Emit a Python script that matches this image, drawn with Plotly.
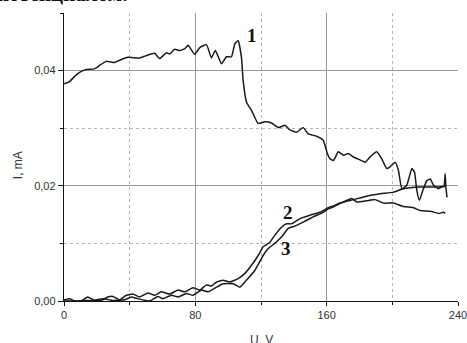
import plotly.graph_objects as go

# Curve 1
u1 = [0, 3.4, 6.5, 9.5, 13.5, 18.6, 21.7, 25.7, 30.8, 33.9, 38.9, 46.1, 50.2, 55.2, 58.3, 62.4,
      64.4, 67.4, 70.5, 73.6, 75.6, 79.6, 82.7, 86.8, 89.8, 92.2, 95.9, 99.0, 102.0, 104.1,
      106.1, 108.1, 109.1, 111.2, 114.2, 118.3, 122.4, 126.4, 130.5, 134.6, 137.6, 141.7,
      145.7, 148.8, 153.9, 157.9, 160.4, 162.0, 164.1, 167.1, 170.2, 173.2, 176.3, 180.3,
      183.4, 186.4, 190.5, 193.5, 196.6, 198.6, 201.7, 203.7, 205.8, 208.8, 211.9, 213.5,
      214.9, 216.5, 218.6, 221.0, 223.1, 225.1, 228.1, 230.2, 231.5, 232.2, 232.6, 233.3]
i1 = [0.0377, 0.0381, 0.0390, 0.0397, 0.0402, 0.0403, 0.0409, 0.0416, 0.0414, 0.0418, 0.0423,
      0.0422, 0.0426, 0.0430, 0.0421, 0.0431, 0.0429, 0.0437, 0.0435, 0.0438, 0.0444, 0.0428,
      0.0440, 0.0445, 0.0422, 0.0435, 0.0412, 0.0424, 0.0424, 0.0447, 0.0452, 0.0423, 0.0383,
      0.0345, 0.0331, 0.0308, 0.0311, 0.0309, 0.0301, 0.0305, 0.0297, 0.0293, 0.0301, 0.0290,
      0.0286, 0.0279, 0.0256, 0.0247, 0.0244, 0.0259, 0.0253, 0.0256, 0.0250, 0.0245, 0.0241,
      0.0250, 0.0259, 0.0247, 0.0230, 0.0233, 0.0241, 0.0227, 0.0195, 0.0201, 0.0230, 0.0224,
      0.0192, 0.0175, 0.0192, 0.0209, 0.0212, 0.0201, 0.0195, 0.0198, 0.0200, 0.0221, 0.0198,
      0.0180]

# Curve 2
u2 = [0, 3.4, 6.4, 10.5, 14.5, 18.6, 22.7, 26.7, 29.8, 33.9, 38.0, 42.0, 46.1, 51.1, 55.2,
      59.3, 64.4, 69.5, 73.5, 78.6, 82.7, 86.8, 89.8, 92.9, 96.9, 101.0, 106.1, 110.2, 114.2,
      118.3, 121.3, 125.4, 128.4, 132.5, 135.6, 138.6, 143.7, 149.8, 155.9, 161.0, 164.0,
      168.1, 176.3, 184.4, 192.5, 200.7, 206.8, 217.0, 225.1, 232.2]
i2 = [0.0002, 0.0004, 0.0, 0.0, 0.0007, 0.0001, 0.0001, 0.0007, 0.0008, 0.0002, 0.0010, 0.0012,
      0.0007, 0.0014, 0.0010, 0.0016, 0.0012, 0.0019, 0.0016, 0.0023, 0.0019, 0.0028, 0.0026,
      0.0033, 0.0036, 0.0033, 0.0039, 0.0048, 0.0062, 0.0079, 0.0094, 0.0102, 0.0114, 0.0128,
      0.0134, 0.0134, 0.0143, 0.0149, 0.0154, 0.0162, 0.0165, 0.0170, 0.0176, 0.0182, 0.0186,
      0.0189, 0.0195, 0.0198, 0.0198, 0.0199]

# Curve 3
u3 = [0, 8, 12, 17.6, 23.7, 29.8, 36.9, 41.0, 45.0, 52.2, 57.2, 60.3, 65.4, 69.5, 74.6, 78.6,
      83.7, 87.8, 92.9, 96.9, 103.0, 107.1, 111.1, 116.2, 121.3, 124.4, 128.4, 132.5, 136.6,
      140.7, 145.7, 151.8, 157.9, 161.0, 164.0, 168.0, 175.3, 178.3, 184.4, 189.5, 194.6,
      200.7, 206.8, 213.0, 217.0, 223.1, 228.2, 231.2, 232.2]
i3 = [0.0, 0.0, 0.0001, 0.0001, 0.0004, 0.0001, 0.0002, 0.0007, 0.0004, 0.0, 0.0008, 0.0004,
      0.0010, 0.0007, 0.0013, 0.0010, 0.0019, 0.0016, 0.0024, 0.0030, 0.0030, 0.0024, 0.0036,
      0.0053, 0.0079, 0.0091, 0.0100, 0.0111, 0.0126, 0.0130, 0.0137, 0.0146, 0.0154, 0.0160,
      0.0163, 0.0169, 0.0178, 0.0172, 0.0174, 0.0176, 0.0170, 0.0170, 0.0164, 0.0162, 0.0157,
      0.0156, 0.0152, 0.0154, 0.0152]

x_ticks = [0, 80, 160, 240]
x_tick_labels = ["0", "80", "160", "240"]
y_ticks = [0.0, 0.02, 0.04]
y_tick_labels = ["0,00", "0,02", "0,04"]

curve_labels = ["1", "2", "3"]
label_u = [114.5, 136.5, 135.5]
label_i = [0.0461, 0.0153, 0.0091]

LINE = "#1a1a1a"
fig = go.Figure()
for u, i in [(u1, i1), (u2, i2), (u3, i3)]:
    fig.add_trace(go.Scatter(x=u, y=i, mode="lines",
                             line=dict(color=LINE, width=1.5, shape="spline", smoothing=0.4),
                             showlegend=False, hoverinfo="skip"))

for t, ux, iy in zip(curve_labels, label_u, label_i):
    fig.add_annotation(x=ux, y=iy, text="<b>" + t + "</b>", showarrow=False,
                       font=dict(family="Liberation Serif", size=19, color="#111"),
                       xanchor="center", yanchor="middle")

# cut-off line of page text above the chart
fig.add_annotation(xref="paper", yref="paper", x=-0.175, y=1.066, text="<b>потенциалом.</b>",
                   showarrow=False, xanchor="left", yanchor="middle",
                   font=dict(family="Liberation Serif", size=21, color="#111"))

fig.add_annotation(xref="paper", yref="paper", x=-0.118, y=0.47, text="I, mA", textangle=-90,
                   showarrow=False, xanchor="center", yanchor="middle",
                   font=dict(family="Liberation Sans", size=12, color="#333"))
fig.add_annotation(xref="paper", yref="paper", x=0.5, y=-0.134, text="U, V",
                   showarrow=False, xanchor="center", yanchor="middle",
                   font=dict(family="Liberation Sans", size=12, color="#333"))

fig.update_layout(
    width=467, height=343,
    margin=dict(l=64, r=9, t=13, b=42),
    paper_bgcolor="white", plot_bgcolor="white",
    font=dict(family="Liberation Sans", size=11, color="#333"),
    xaxis=dict(range=[0, 240], tickvals=x_ticks, ticktext=x_tick_labels,
               automargin=False, ticklabeloverflow="allow",
               showline=True, linecolor="#111", linewidth=1.2,
               ticks="outside", ticklen=4, tickcolor="#111",
               showgrid=True, gridcolor="#9a9a9a", gridwidth=1, zeroline=False,
               minor=dict(dtick=40, tick0=0, ticks="outside", ticklen=3, tickcolor="#111",
                          showgrid=True, gridcolor="#b5b5b5", griddash="dot", gridwidth=1)),
    yaxis=dict(range=[0, 0.05], tickvals=y_ticks, ticktext=y_tick_labels,
               automargin=False,
               showline=True, linecolor="#111", linewidth=1.2,
               ticks="outside", ticklen=5, tickcolor="#111",
               showgrid=True, gridcolor="#9a9a9a", gridwidth=1, zeroline=False,
               minor=dict(dtick=0.01, tick0=0, ticks="outside", ticklen=3, tickcolor="#111",
                          showgrid=True, gridcolor="#b5b5b5", griddash="dot", gridwidth=1)),
)

fig.write_html("out.html", config={"displayModeBar": False, "staticPlot": True},
               post_script="document.body.style.margin='0';document.body.style.overflow='hidden';")
